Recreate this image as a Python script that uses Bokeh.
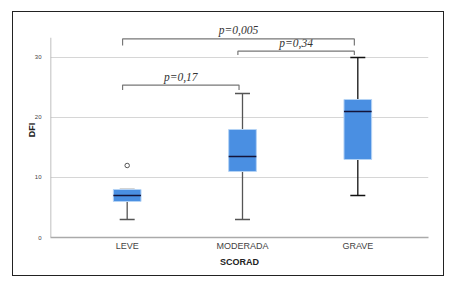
from bokeh.plotting import figure
from bokeh.models import FixedTicker, Range1d
from bokeh.core.properties import value
from bokeh.embed import file_html
from bokeh.resources import INLINE

categories = ["LEVE", "MODERADA", "GRAVE"]
q1 = [6, 11, 13]
median = [7, 13.5, 21]
q3 = [8, 18, 23]
whisker_low = [3, 3, 7]
whisker_high = [8, 24, 30]
outlier_cat = [0]
outlier_val = [12]

p_labels = ["p=0,17", "p=0,34", "p=0,005"]
p_left = [0, 1, 0]
p_right = [1, 2, 2]
p_height = [25.4, 31.05, 33.1]

y_ticks = [0, 10, 20, 30]

xs = list(range(len(categories)))

p = figure(width=432, height=265, output_backend="svg", toolbar_location=None,
           x_range=Range1d(-0.665, 2.613), y_range=Range1d(0, 35.83),
           min_border_left=37, min_border_right=17, min_border_top=10,
           min_border_bottom=40)
p.styles = {"border": "1px solid #222222", "margin-left": "12px", "margin-top": "11px"}
p.outline_line_color = None
p.background_fill_color = "white"

# axes
p.xaxis.ticker = FixedTicker(ticks=xs)
p.xaxis.major_label_overrides = {i: c for i, c in enumerate(categories)}
p.yaxis.ticker = FixedTicker(ticks=y_ticks)
for ax in (p.xaxis, p.yaxis):
    ax.major_tick_line_color = None
    ax.minor_tick_line_color = None
    ax.axis_label_text_font = "Liberation Sans"
    ax.axis_label_text_font_style = "bold"
    ax.axis_label_text_font_size = "9px"
    ax.axis_label_text_color = "#222222"
    ax.major_label_text_font = "Liberation Sans"
    ax.major_label_text_color = "#444444"
p.xaxis.axis_label = "SCORAD"
p.yaxis.axis_label = "DFI"
p.xaxis.major_label_text_font_size = "9px"
p.yaxis.major_label_text_font_size = "6px"
p.xaxis.major_label_standoff = -3
p.yaxis.major_label_standoff = 3
p.xaxis.axis_label_standoff = 3
p.yaxis.axis_label_standoff = -5
p.xaxis.axis_line_color = "#aaaaaa"
p.xaxis.axis_line_width = 1.5
p.yaxis.axis_line_color = None

p.xgrid.grid_line_color = None
p.ygrid.ticker = FixedTicker(ticks=[10, 20, 30])
p.ygrid.grid_line_color = "#d6d6d6"

# y axis line, limited height
p.segment(x0=[-0.665], y0=[0], x1=[-0.665], y1=[33.3], line_color="#aaaaaa", line_width=1.5)

# whiskers
wcol = ["#555555", "#555555", "#111111"]
p.segment(x0=xs, y0=whisker_low, x1=xs, y1=q1, line_color=wcol, line_width=1.3)
p.segment(x0=xs, y0=q3, x1=xs, y1=whisker_high, line_color=wcol, line_width=1.3)
cw = 0.065
p.segment(x0=[x - cw for x in xs], y0=whisker_low, x1=[x + cw for x in xs], y1=whisker_low,
          line_color=wcol, line_width=1.3)
p.segment(x0=[x - cw for x in xs], y0=whisker_high, x1=[x + cw for x in xs], y1=whisker_high,
          line_color=wcol, line_width=1.3)

# boxes
p.vbar(x=xs, bottom=q1, top=q3, width=0.24, fill_color="#4a8fe2",
       line_color="#b5d3f5", line_width=1)
bw = 0.12
p.segment(x0=[x - bw for x in xs], y0=median, x1=[x + bw for x in xs], y1=median,
          line_color="#14143a", line_width=1.3)

# outliers
p.scatter(x=outlier_cat, y=outlier_val, marker="circle", size=4.5,
          fill_color="white", line_color="#555555", line_width=1)

# significance brackets
drops = [0.8, 0.65, 1.1]
for lab, a, b, h, d in zip(p_labels, p_left, p_right, p_height, drops):
    x0 = a - 0.04
    x1 = b - 0.03
    p.line(x=[x0, x0, x1, x1], y=[h - d, h, h, h - d], line_color="#777777", line_width=1.2)
    p.text(x=[(x0 + x1) / 2], y=[h + 0.4], text=[lab], text_font=value("Liberation Serif"),
           text_font_style="italic", text_font_size="11.5px", text_color="#333333",
           text_align="center", text_baseline="bottom")

open("out.html", "w").write(file_html(p, INLINE))
